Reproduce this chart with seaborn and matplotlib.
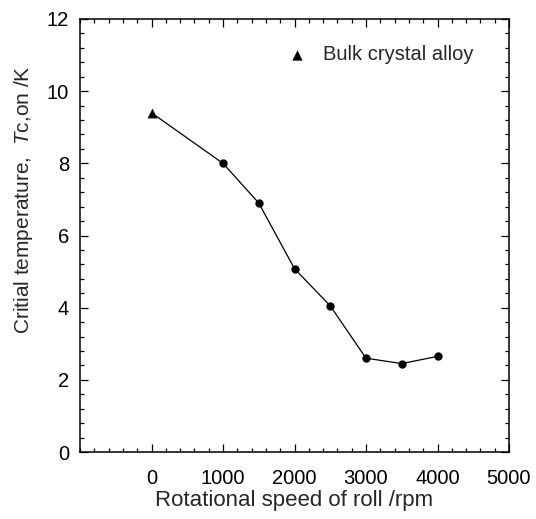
import matplotlib
matplotlib.use("Agg")
import matplotlib.pyplot as plt
import seaborn as sns
import pandas as pd
from matplotlib.ticker import MultipleLocator

speed = [0, 1000, 1500, 2000, 2500, 3000, 3500, 4000]
tc_on = [9.4, 8.0, 6.9, 5.08, 4.05, 2.6, 2.45, 2.65]
sample = ["Bulk crystal alloy", "Ribbon", "Ribbon", "Ribbon", "Ribbon", "Ribbon", "Ribbon", "Ribbon"]
xticks = [0, 1000, 2000, 3000, 4000, 5000]
yticks = [0, 2, 4, 6, 8, 10, 12]

df = pd.DataFrame({"speed": speed, "tc": tc_on, "sample": sample})

sns.set_style("ticks")
plt.rcParams["font.family"] = ["Liberation Sans", "DejaVu Sans"]
plt.rcParams["mathtext.fontset"] = "custom"
plt.rcParams["mathtext.it"] = "Liberation Sans:italic"
plt.rcParams["mathtext.rm"] = "Liberation Sans"

W, H = 536, 519
fig = plt.figure(figsize=(W / 100, H / 100), dpi=100)
ax = fig.add_axes([80 / W, (H - 452) / H, (509 - 80) / W, (452 - 19) / H])

sns.lineplot(data=df, x="speed", y="tc", color="black", linewidth=0.9, ax=ax,
             legend=False, zorder=2)
sns.scatterplot(data=df[df["sample"] == "Ribbon"], x="speed", y="tc", marker="o",
                color="black", s=36, edgecolor="black", linewidth=0, ax=ax,
                legend=False, zorder=3)
sns.scatterplot(data=df[df["sample"] == "Bulk crystal alloy"], x="speed", y="tc", marker="^",
                color="black", s=50, edgecolor="black", linewidth=0, ax=ax,
                legend=False, zorder=3)

bulk_label = sample[0]
ax.scatter([], [], marker="^", color="black", s=55, linewidth=0, label=bulk_label)
ax.legend(loc="center left", frameon=False, fontsize=14.5, handletextpad=0.8,
          handlelength=1.0, borderpad=0, borderaxespad=0,
          bbox_to_anchor=(287 / W, (H - 55) / H), bbox_transform=fig.transFigure,
          scatterpoints=1)

ax.set_xlim(-1000, 5000)
ax.set_ylim(0, 12)
ax.set_xticks(xticks)
ax.set_yticks(yticks)
ax.xaxis.set_minor_locator(MultipleLocator(200))
ax.yaxis.set_minor_locator(MultipleLocator(0.4))
ax.tick_params(which="both", direction="in", top=True, right=True, width=0.9, colors="black")
ax.tick_params(which="major", length=6, labelsize=14.5)
ax.tick_params(axis="x", which="major", pad=12)
ax.tick_params(axis="y", which="major", pad=8)
ax.tick_params(which="minor", length=3)
for sp in ax.spines.values():
    sp.set_linewidth(1.1)
    sp.set_color("black")

ax.set_xlabel("Rotational speed of roll /rpm", fontsize=16, labelpad=2)
ax.set_ylabel("Critial temperature,  $T$c,on /K", fontsize=15)
ax.yaxis.set_label_coords((35 - 80) / 429, (452 - 200) / 433)

fig.savefig("out.png", dpi=100)
